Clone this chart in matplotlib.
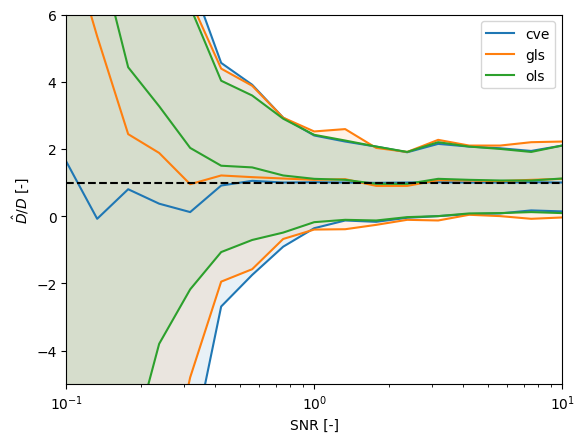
import numpy as np
import matplotlib
matplotlib.use("Agg")
import matplotlib.pyplot as plt

snr = np.logspace(-1, 1, 17)
names = ["cve", "gls", "ols"]
colors = ["tab:blue", "tab:orange", "tab:green"]

cve_med = [1.63, -0.08, 0.80, 0.37, 0.12, 0.91, 1.05, 1.0, 1.01, 1.0, 0.99, 1.0, 1.01, 1.0, 1.0, 1.01, 1.0]
cve_up = [30, 22, 15, 10, 7.1, 4.56, 3.91, 2.93, 2.40, 2.22, 2.07, 1.90, 2.15, 2.07, 2.02, 1.94, 2.10]
cve_lo = [-30, -22, -15, -10, -7.15, -2.69, -1.75, -0.91, -0.36, -0.13, -0.17, -0.05, 0.0, 0.06, 0.08, 0.17, 0.14]

gls_med = [8.5, 5.35, 2.44, 1.88, 0.95, 1.21, 1.16, 1.12, 1.08, 1.10, 0.90, 0.90, 1.07, 1.06, 1.04, 1.08, 1.11]
gls_up = [30, 22, 15, 10, 6.44, 4.39, 3.88, 2.93, 2.52, 2.59, 2.03, 1.91, 2.27, 2.10, 2.10, 2.20, 2.22]
gls_lo = [-30, -22, -15, -9, -4.8, -1.95, -1.58, -0.68, -0.40, -0.39, -0.26, -0.11, -0.13, 0.04, 0.0, -0.08, -0.04]

ols_med = [11, 8.1, 4.43, 3.27, 2.03, 1.50, 1.45, 1.21, 1.11, 1.08, 0.96, 0.96, 1.11, 1.08, 1.06, 1.06, 1.12]
ols_up = [30, 22, 15, 10, 6.23, 4.03, 3.59, 2.90, 2.42, 2.25, 2.07, 1.91, 2.20, 2.07, 2.00, 1.91, 2.10]
ols_lo = [-25, -15, -7.26, -3.8, -2.18, -1.07, -0.71, -0.49, -0.18, -0.11, -0.13, -0.03, 0.0, 0.08, 0.09, 0.12, 0.09]

meds = [cve_med, gls_med, ols_med]
ups = [cve_up, gls_up, ols_up]
los = [cve_lo, gls_lo, ols_lo]

fig, ax = plt.subplots(figsize=(6.4, 4.8))
for name, c, m, u, l in zip(names, colors, meds, ups, los):
    ax.plot(snr, m, color=c, label=name)
    ax.plot(snr, u, color=c)
    ax.plot(snr, l, color=c)
    ax.fill_between(snr, l, u, color=c, alpha=0.1, linewidth=0)
ax.axhline(1, color="k", linestyle="--", linewidth=1.5)
ax.set_xscale("log")
ax.set_xlim(0.1, 10)
ax.set_ylim(-5, 6)
ax.set_xlabel("SNR [-]")
ax.set_ylabel(r"$\hat{D}/D$ [-]")
ax.legend(loc="upper right")
fig.savefig("out.png", bbox_inches="tight")
